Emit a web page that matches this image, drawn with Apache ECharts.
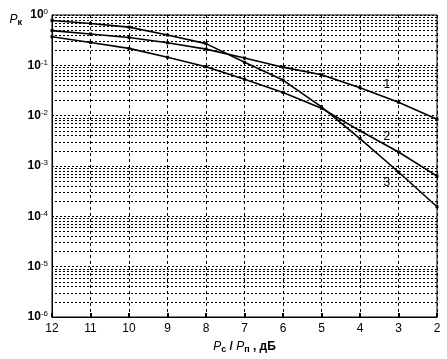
<!DOCTYPE html>
<html>
<head>
<meta charset="utf-8">
<script src="https://cdn.jsdelivr.net/npm/echarts@6/dist/echarts.min.js"></script>
<style>
  html, body { margin: 0; padding: 0; background: #fff; }
  #chart { width: 447px; height: 359px; }
</style>
</head>
<body>
<div id="chart"></div>
<script>
// Pc/Pп, dB (axis runs from 12 down to 2)
const snr = [12, 11, 10, 9, 8, 7, 6, 5, 4, 3, 2]

// curve values
const curve1 = [0.49, 0.42, 0.356, 0.28, 0.21, 0.14, 0.092, 0.065, 0.036, 0.0185, 0.0085]
const curve2 = [0.37, 0.285, 0.217, 0.145, 0.094, 0.053, 0.029, 0.014, 0.005, 0.0019, 0.00063]
const curve3 = [0.78, 0.68, 0.575, 0.40, 0.27, 0.115, 0.051, 0.015, 0.0035, 0.00076, 0.000155]

const curveNames = ['1', '2', '3']
// where the numbers 1, 2, 3 sit next to the curves
const labelX = [3.3, 3.3, 3.3]
const labelY = [0.041, 0.0039, 0.00047]

const yDecades = [-6, -5, -4, -3, -2, -1, 0]

const font = 'Liberation Sans, Arial, sans-serif'

// dotted minor grid: 2..9 inside every decade
const minorLines = []
yDecades.slice(0, -1).forEach(e => {
  for (let m = 2; m <= 9; m++) minorLines.push({ yAxis: m * Math.pow(10, e) })
})

const chart = echarts.init(document.getElementById('chart'))

function makeSeries(name, values, idx) {
  return {
    name,
    type: 'line',
    data: snr.map((x, i) => [x, values[i]]),
    symbol: 'rect',
    symbolSize: 3,
    itemStyle: { color: '#000' },
    lineStyle: { color: '#000', width: 1.6 },
    z: 5,
    markPoint: {
      symbol: 'circle',
      symbolSize: 0,
      silent: true,
      data: [{ coord: [labelX[idx], labelY[idx]], value: name }],
      label: {
        show: true,
        position: 'inside',
        color: '#000',
        fontFamily: font,
        fontSize: 12,
        formatter: name
      }
    }
  }
}

chart.setOption({
  animation: false,
  backgroundColor: '#fff',
  grid: { left: 52, right: 10, top: 15, bottom: 39, show: true, borderColor: '#000', borderWidth: 1 },
  xAxis: {
    type: 'value',
    inverse: true,
    min: 2,
    max: 12,
    interval: 1,
    name: '{i|P}{sub|c}{n| / }{i|P}{sub|п}{n| , дБ}',
    nameLocation: 'middle',
    nameGap: 23,
    nameTextStyle: {
      rich: {
        i: { fontFamily: font, fontStyle: 'italic', fontSize: 12, color: '#000', lineHeight: 14 },
        sub: { fontFamily: font, fontSize: 9, fontWeight: 'bold', color: '#000', verticalAlign: 'bottom', lineHeight: 8 },
        n: { fontFamily: font, fontSize: 12, fontWeight: 'bold', color: '#000', lineHeight: 14 }
      }
    },
    axisLine: { show: true, onZero: false, lineStyle: { color: '#000', width: 1 } },
    axisTick: { show: true, inside: true, length: 4, lineStyle: { color: '#000', width: 2 } },
    axisLabel: { color: '#000', fontFamily: font, fontSize: 12, margin: 6 },
    splitLine: { show: true, lineStyle: { color: '#000', width: 1, type: [3, 3] } }
  },
  yAxis: {
    type: 'log',
    logBase: 10,
    min: 1e-6,
    max: 1,
    interval: 1,
    name: '{i|P}{sub|к}',
    nameLocation: 'end',
    nameGap: -12,
    nameTextStyle: {
      align: 'right',
      padding: [0, 30, 0, 0],
      rich: {
        i: { fontFamily: font, fontStyle: 'italic', fontSize: 12, color: '#000', lineHeight: 14 },
        sub: { fontFamily: font, fontSize: 9, fontWeight: 'bold', color: '#000', verticalAlign: 'bottom', lineHeight: 8 }
      }
    },
    axisLine: { show: true, lineStyle: { color: '#000', width: 1 } },
    axisTick: { show: false },
    axisLabel: {
      color: '#000',
      margin: 4,
      formatter: v => {
        const e = Math.round(Math.log10(v))
        return '{b|10}{s|' + e + '}'
      },
      rich: {
        b: { fontFamily: font, fontSize: 12, fontWeight: 'bold', color: '#000', lineHeight: 14 },
        s: { fontFamily: font, fontSize: 8, color: '#000', verticalAlign: 'top', lineHeight: 8 }
      }
    },
    splitLine: { show: true, lineStyle: { color: '#000', width: 1, type: [2, 2] } }
  },
  series: [
    makeSeries(curveNames[0], curve1, 0),
    makeSeries(curveNames[1], curve2, 1),
    makeSeries(curveNames[2], curve3, 2),
    {
      type: 'line',
      data: [],
      silent: true,
      markLine: {
        symbol: 'none',
        silent: true,
        precision: 12,
        label: { show: false },
        lineStyle: { color: '#000', width: 1, type: [2, 2] },
        data: minorLines
      }
    }
  ]
})
</script>
</body>
</html>
